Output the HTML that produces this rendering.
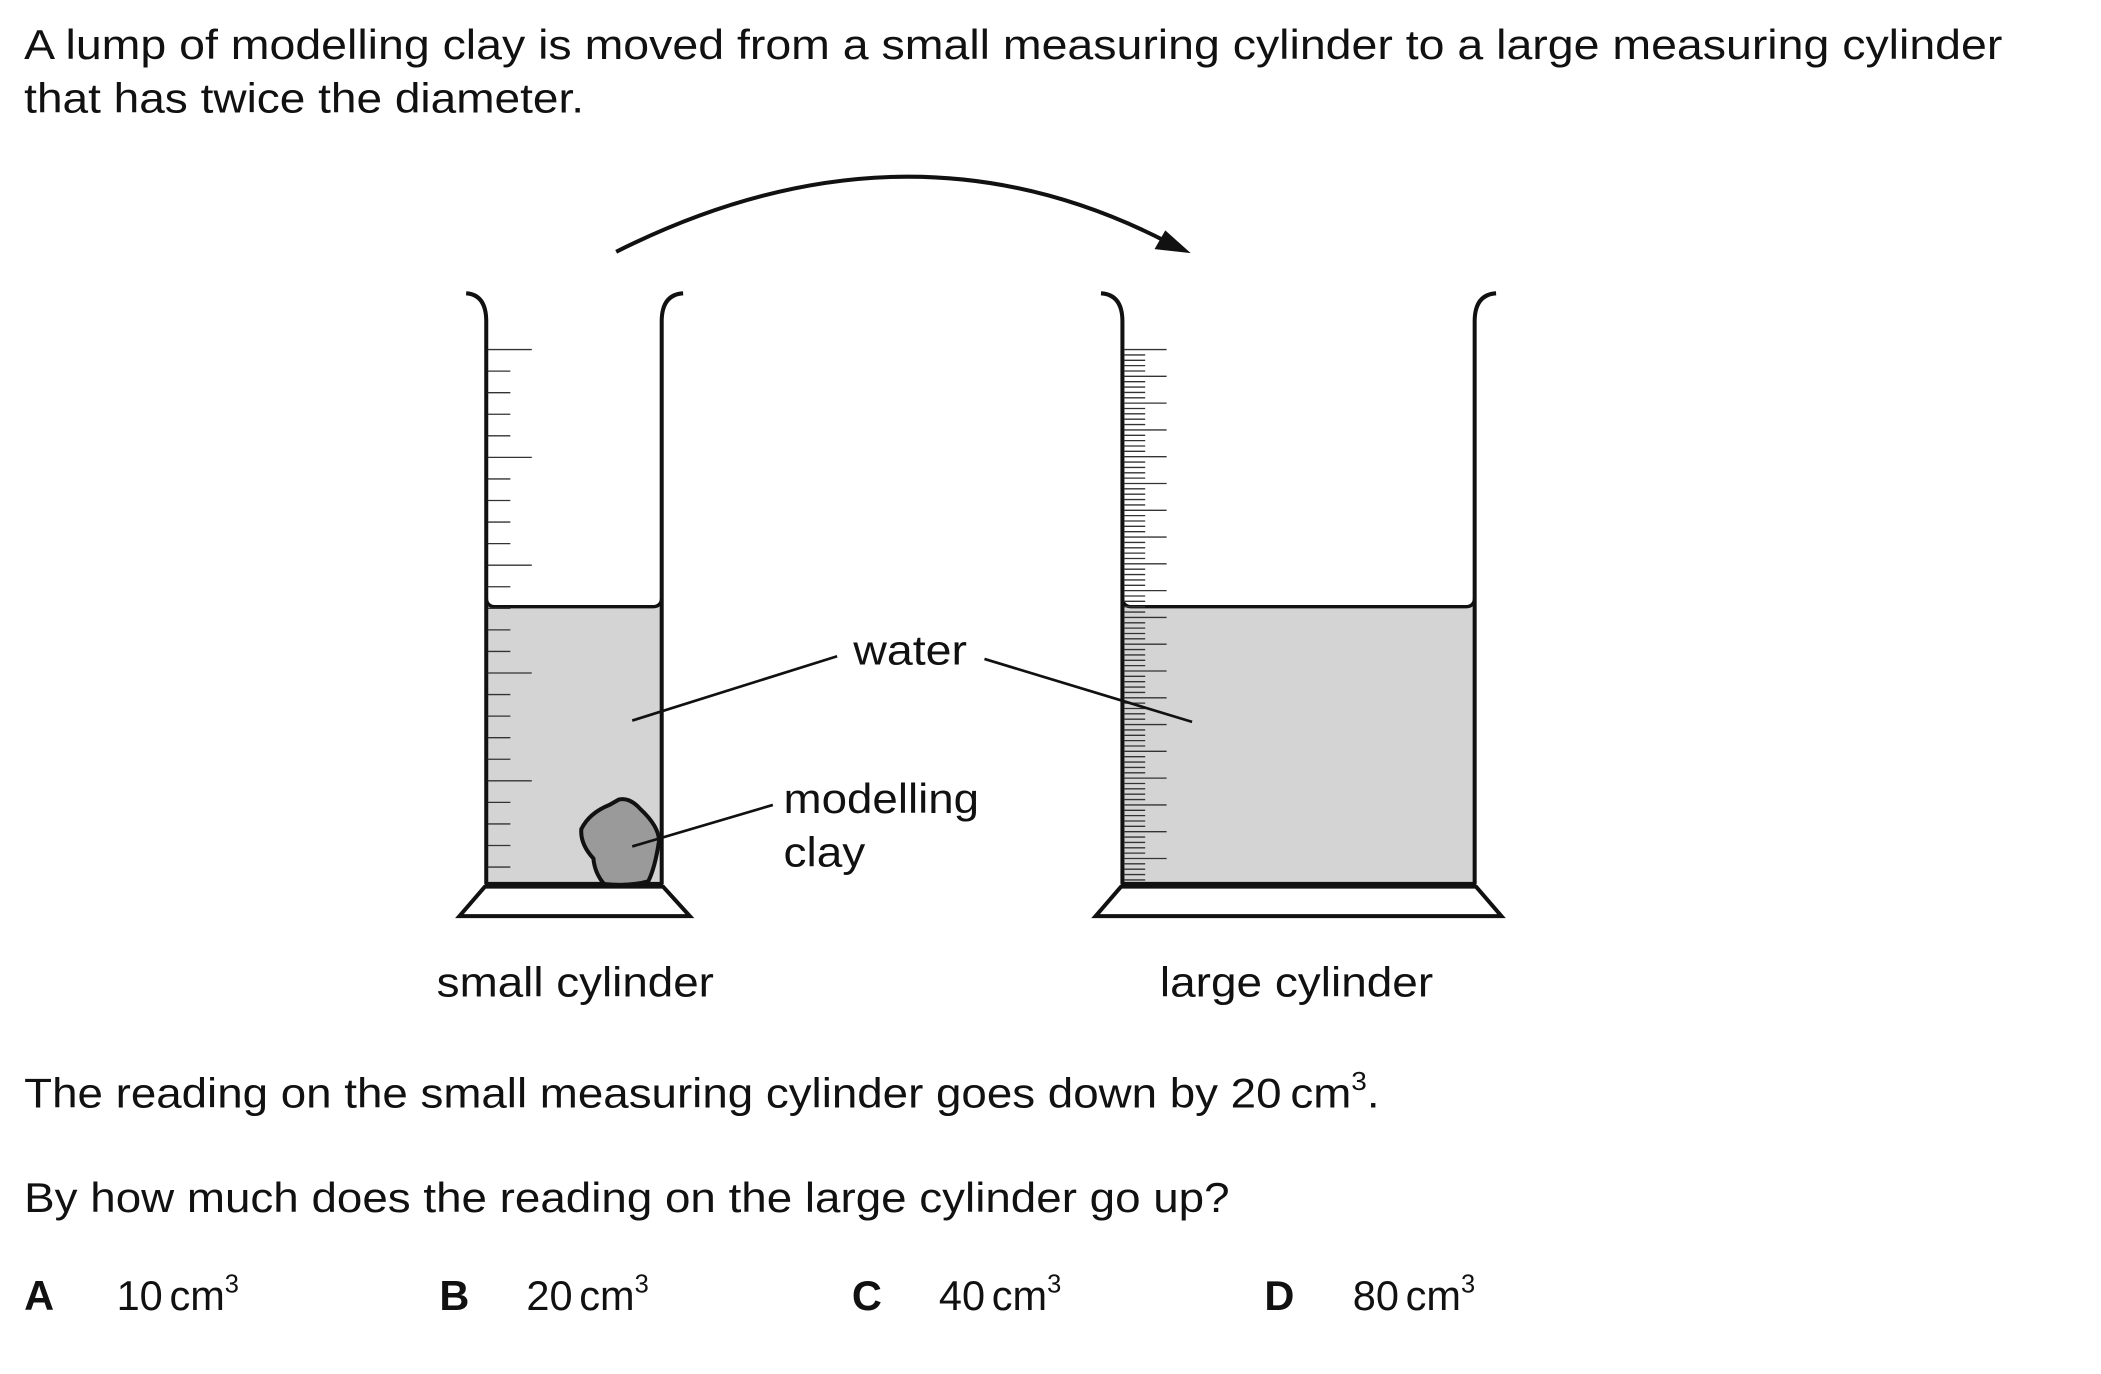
<!DOCTYPE html>
<html><head><meta charset="utf-8"><style>
html,body{margin:0;padding:0;background:#fff;}
svg{display:block;}
text{font-family:"Liberation Sans",Arial,sans-serif;fill:#111;}
</style></head><body>
<svg width="2101" height="1374" viewBox="0 0 1568.6 1025.9" xmlns="http://www.w3.org/2000/svg">
<rect width="1570" height="1030" fill="#fff"/>
<text x="18" y="44" font-size="31" textLength="1477" lengthAdjust="spacingAndGlyphs">A lump of modelling clay is moved from a small measuring cylinder to a large measuring cylinder</text>
<text x="18" y="84" font-size="31" textLength="418" lengthAdjust="spacingAndGlyphs">that has twice the diameter.</text>

<g>
<path d="M460,188 Q675,80 870,180" fill="none" stroke="#111" stroke-width="3"/>
<polygon points="889,189 862,186 870,172" fill="#111"/>
</g>

<g>
<path d="M363,453 L363,660 L494,660 L494,453 Z" fill="#d4d4d4"/>
<path d="M363,446 Q363,453 370,453 L487,453 Q494,453 494,446" fill="none" stroke="#111" stroke-width="2.5"/>
<path d="M348,219 Q363,220 363,240 L363,660 M510,219 Q494,220 494,240 L494,660" fill="none" stroke="#111" stroke-width="3"/>
<line x1="362" y1="660" x2="495" y2="660" stroke="#111" stroke-width="3"/>
<polygon points="362,662 495,662 515,684 343,684" fill="#fff" stroke="#111" stroke-width="3"/>
<g id="smallTicks" stroke="#333" stroke-width="1"></g>
<path d="M462,597 Q470,595 478,604 Q492,617 492,628 Q489,648 484,658 Q470,662 451,660 Q444,652 443,641 Q433,630 434,619 Q440,607 455,601 Z" fill="#9a9a9a" stroke="#111" stroke-width="3"/>
</g>

<g>
<path d="M838,453 L838,660 L1101,660 L1101,453 Z" fill="#d4d4d4"/>
<path d="M838,446 Q838,453 845,453 L1094,453 Q1101,453 1101,446" fill="none" stroke="#111" stroke-width="2.5"/>
<path d="M822,219 Q838,220 838,240 L838,660 M1117,219 Q1101,220 1101,240 L1101,660" fill="none" stroke="#111" stroke-width="3"/>
<line x1="837" y1="660" x2="1102" y2="660" stroke="#111" stroke-width="3"/>
<polygon points="837,662 1102,662 1121,684 818,684" fill="#fff" stroke="#111" stroke-width="3"/>
<g id="largeTicks" stroke="#333" stroke-width="1"></g>
</g>

<g>
<line x1="625" y1="490" x2="472" y2="538" stroke="#111" stroke-width="2"/>
<line x1="735" y1="492" x2="890" y2="539" stroke="#111" stroke-width="2"/>
<text x="637" y="496" font-size="31" textLength="85" lengthAdjust="spacingAndGlyphs">water</text>
</g>
<g>
<line x1="577" y1="601" x2="472" y2="632" stroke="#111" stroke-width="2"/>
<text x="585" y="607" font-size="31" textLength="146" lengthAdjust="spacingAndGlyphs">modelling</text>
<text x="585" y="647" font-size="31" textLength="61" lengthAdjust="spacingAndGlyphs">clay</text>
</g>
<text x="326" y="744" font-size="31" textLength="207" lengthAdjust="spacingAndGlyphs">small cylinder</text>
<text x="866" y="744" font-size="31" textLength="204" lengthAdjust="spacingAndGlyphs">large cylinder</text>

<text x="18" y="827" font-size="31" textLength="1012" lengthAdjust="spacingAndGlyphs">The reading on the small measuring cylinder goes down by 20<tspan dx="6">cm</tspan><tspan font-size="19" dy="-13">3</tspan><tspan dy="13">.</tspan></text>
<text x="18" y="905" font-size="31" textLength="900" lengthAdjust="spacingAndGlyphs">By how much does the reading on the large cylinder go up?</text>

<g><text x="18" y="978" font-size="31" font-weight="bold">A</text><text x="87" y="978" font-size="31">10<tspan dx="5">cm</tspan><tspan font-size="19" dy="-13">3</tspan></text></g>
<g><text x="328" y="978" font-size="31" font-weight="bold">B</text><text x="393" y="978" font-size="31">20<tspan dx="5">cm</tspan><tspan font-size="19" dy="-13">3</tspan></text></g>
<g><text x="636" y="978" font-size="31" font-weight="bold">C</text><text x="701" y="978" font-size="31">40<tspan dx="5">cm</tspan><tspan font-size="19" dy="-13">3</tspan></text></g>
<g><text x="944" y="978" font-size="31" font-weight="bold">D</text><text x="1010" y="978" font-size="31">80<tspan dx="5">cm</tspan><tspan font-size="19" dy="-13">3</tspan></text></g>
</svg>
<script>
const NS="http://www.w3.org/2000/svg";
function tick(g,x1,x2,y){const l=document.createElementNS(NS,'line');


l.setAttribute('x1',x1);l.setAttribute('x2',x2);l.setAttribute('y1',y);l.setAttribute('y2',y);g.appendChild(l);}
const sg=document.getElementById('smallTicks');
for(let i=0;i<25;i++){const y=261+i*16.1;tick(sg,364,i%5===0?397:381,y);}
const lg=document.getElementById('largeTicks');
for(let i=0;i<=100;i++){const y=261+i*4.0;if(y>658)break;tick(lg,839,i%5===0?871:855,y);}
</script>
</body></html>
